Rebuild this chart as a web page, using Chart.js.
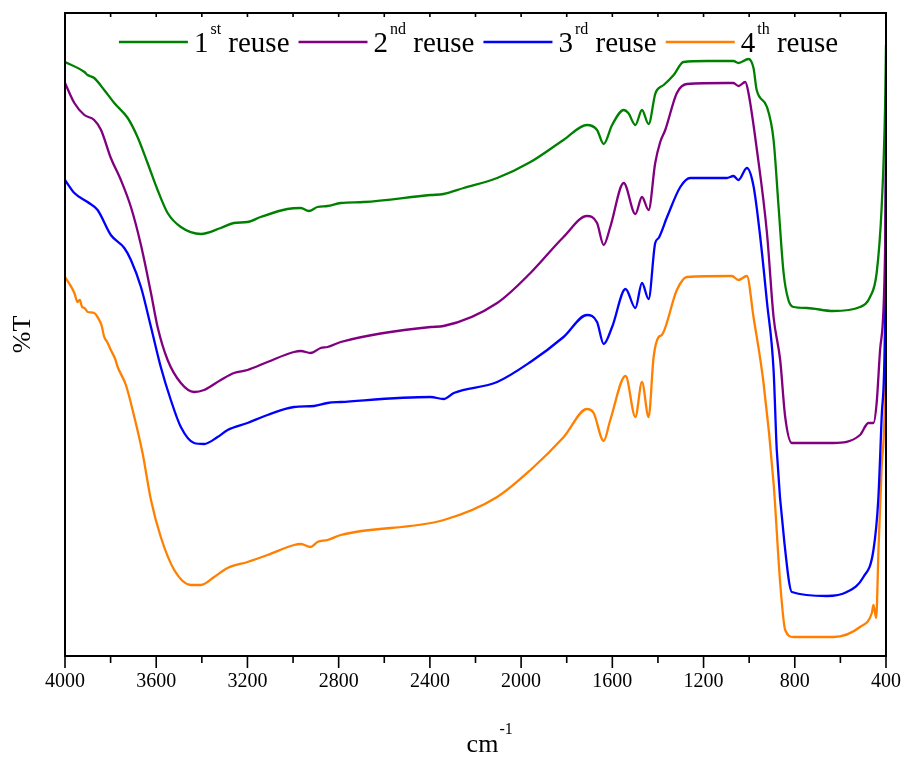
<!DOCTYPE html>
<html>
<head>
<meta charset="utf-8">
<script src="https://cdn.jsdelivr.net/npm/chart.js@4/dist/chart.umd.min.js"></script>
<style>
  html, body { margin: 0; padding: 0; background: #fff; }
  #wrap { width: 906px; height: 760px; }
</style>
</head>
<body>
<div id="wrap"><canvas id="c" width="906" height="760"></canvas></div>
<script>
// ---- data (wavenumber in cm-1, relative %T, arbitrary offset units) ----
const seriesOrdinal = ['1', '2', '3', '4'];
const seriesSuffix = ['st', 'nd', 'rd', 'th'];
const seriesWord = 'reuse';
const seriesColors = ['#008000', '#800080', '#0000ff', '#ff8000'];

const wn1 = [4000,3915,3901,3872,3828,3784,3725,3682,3638,3594,3550,3492,3404,3317,3260,3200,3142,3025,2966,2931,2893,2849,2791,2690,2397,2340,2252,2105,1959,1814,1711,1667,1638,1601,1550,1530,1499,1470,1441,1412,1404,1375,1331,1288,1185,1069,1047,1003,981,967,922,893,871,849,828,806,747,632,514,470,441,419,404,400];
const t1  = [594,584,581,578,566,553,538,519,493,466,443,429,422,428,433,434,439,447,448,445,449,450,453,454,461,462,468,478,494,516,531,526,512,531,546,543,531,546,532,562,566,571,581,594,595,595,593,597,588,566,549,516,449,383,356,349,348,345,349,359,383,449,549,611];

const wn2 = [4000,3959,3915,3872,3842,3799,3755,3711,3667,3623,3594,3550,3492,3434,3390,3317,3259,3200,3112,2996,2966,2923,2879,2849,2791,2397,2340,2105,1959,1814,1711,1667,1638,1609,1550,1499,1470,1441,1412,1390,1368,1317,1273,1098,1069,1047,1017,1003,966,922,893,864,842,813,631,514,477,455,441,426,404,400];
const t2  = [573,553,541,536,526,498,476,449,411,363,329,296,273,264,266,276,283,286,294,304,305,303,308,309,314,329,330,353,383,419,440,433,411,429,473,442,459,446,493,514,526,563,572,573,573,570,574,563,506,423,339,296,239,213,213,221,233,233,253,306,406,530];

const wn3 = [4000,3959,3901,3857,3799,3740,3711,3667,3623,3580,3536,3492,3434,3390,3331,3287,3200,3112,2996,2908,2849,2791,2397,2340,2295,2105,1959,1814,1711,1667,1638,1601,1542,1499,1470,1441,1412,1397,1360,1302,1258,1098,1069,1047,1010,981,952,922,893,879,842,813,660,572,499,455,434,419,404,400];
const t3  = [476,463,454,446,421,408,396,369,329,289,256,229,213,212,219,226,233,241,249,250,253,254,259,257,263,274,294,319,341,334,312,329,367,348,373,357,413,418,439,469,478,478,480,476,488,470,420,354,286,206,106,64,60,64,79,106,156,239,339,481];

const wn4 = [4000,3980,3959,3945,3935,3925,3915,3900,3872,3850,3840,3828,3815,3799,3780,3769,3733,3696,3660,3623,3580,3521,3448,3404,3346,3287,3200,3112,2996,2966,2923,2893,2849,2791,2339,2105,1959,1813,1711,1682,1638,1609,1542,1499,1470,1441,1419,1397,1383,1317,1273,1076,1047,1010,981,937,893,864,842,806,631,514,462,455,443,433,419,404,400];
const t4  = [379,372,363,354,356,349,348,344,343,336,331,319,314,306,297,289,271,239,203,156,119,86,71,71,79,88,94,101,111,112,109,114,116,121,136,159,186,219,247,243,215,236,280,239,274,239,299,319,321,366,379,380,376,380,339,273,173,73,26,19,19,29,43,51,38,106,189,273,386];

const xTickValues = [4000,3600,3200,2800,2400,2000,1600,1200,800,400];
const xMin = 400, xMax = 4000, majorStep = 400, minorStep = 200;
const yMin = 0, yMax = 643;
const xTitle = 'cm', xTitleSup = '-1';
const yTitle = '%T';

const allWn = [wn1, wn2, wn3, wn4];
const allT = [t1, t2, t3, t4];

const datasets = allWn.map((wn, i) => ({
  label: seriesOrdinal[i] + seriesSuffix[i] + ' ' + seriesWord,
  data: wn.map((w, j) => ({ x: w, y: allT[i][j] })),
  borderColor: seriesColors[i],
  backgroundColor: seriesColors[i],
  borderWidth: 2.3,
  pointRadius: 0,
  cubicInterpolationMode: 'monotone',
  fill: false
}));

const FONT = '"Liberation Serif", "Times New Roman", serif';
Chart.defaults.font.family = FONT;
Chart.defaults.color = '#000';

const decor = {
  id: 'decor',
  afterDraw(chart) {
    const { ctx, chartArea: a, scales: { x } } = chart;
    ctx.save();
    // frame
    ctx.strokeStyle = '#000';
    ctx.lineWidth = 2;
    ctx.strokeRect(a.left, a.top, a.right - a.left, a.bottom - a.top);
    // ticks
    ctx.lineWidth = 1.6;
    ctx.beginPath();
    for (let v = xMin; v <= xMax; v += minorStep) {
      const px = x.getPixelForValue(v);
      const major = v % majorStep === 0;
      ctx.moveTo(px, a.bottom);
      ctx.lineTo(px, a.bottom + (major ? 12 : 7));
      ctx.moveTo(px, a.top);
      ctx.lineTo(px, a.top + 4);
    }
    ctx.stroke();

    // y title
    ctx.fillStyle = '#000';
    ctx.save();
    ctx.translate(23, (a.top + a.bottom) / 2);
    ctx.rotate(-Math.PI / 2);
    ctx.font = '26px ' + FONT;
    ctx.textAlign = 'center';
    ctx.textBaseline = 'middle';
    ctx.fillText(yTitle, 0, 0);
    ctx.restore();

    // x title with superscript
    ctx.textAlign = 'left';
    ctx.textBaseline = 'alphabetic';
    ctx.font = '26px ' + FONT;
    const wcm = ctx.measureText(xTitle).width;
    const xc = (a.left + a.right) / 2;
    const cmLeft = xc - wcm / 2 + 7;
    ctx.fillText(xTitle, cmLeft, 752);
    ctx.font = '16px ' + FONT;
    ctx.fillText(xTitleSup, cmLeft + wcm + 1, 734);

    // legend
    const lineLen = 69, gapLine = 6, gapItem = 9;
    const bigFont = '29px ' + FONT, supFont = '16px ' + FONT;
    const items = chart.data.datasets.map((ds, i) => {
      ctx.font = bigFont;
      const wn = ctx.measureText(seriesOrdinal[i]).width;
      const ww = ctx.measureText(' ' + seriesWord).width;
      ctx.font = supFont;
      const ws = ctx.measureText(seriesSuffix[i]).width;
      return { color: ds.borderColor, wn, ws, ww, w: lineLen + gapLine + wn + 2 + ws + ww };
    });
    const total = items.reduce((s, it) => s + it.w, 0) + gapItem * (items.length - 1);
    let cx = xc + 3 - total / 2;
    const ly = 42, by = 52, sy = 34;
    items.forEach((it, i) => {
      ctx.strokeStyle = it.color;
      ctx.lineWidth = 2.6;
      ctx.beginPath();
      ctx.moveTo(cx, ly);
      ctx.lineTo(cx + lineLen, ly);
      ctx.stroke();
      let tx = cx + lineLen + gapLine;
      ctx.fillStyle = '#000';
      ctx.font = bigFont;
      ctx.fillText(seriesOrdinal[i], tx, by);
      tx += it.wn + 2;
      ctx.font = supFont;
      ctx.fillText(seriesSuffix[i], tx, sy);
      tx += it.ws;
      ctx.font = bigFont;
      ctx.fillText(' ' + seriesWord, tx, by);
      cx += it.w + gapItem;
    });
    ctx.restore();
  }
};

new Chart(document.getElementById('c'), {
  type: 'line',
  data: { datasets },
  options: {
    responsive: false,
    animation: false,
    events: [],
    layout: { padding: { left: 65, right: 20, top: 13, bottom: 0 } },
    plugins: { legend: { display: false }, tooltip: { enabled: false } },
    scales: {
      x: {
        type: 'linear',
        reverse: true,
        min: xMin,
        max: xMax,
        afterFit: (s) => { s.height = 104; s.paddingLeft = 0; s.paddingRight = 0; },
        afterBuildTicks: (s) => { s.ticks = xTickValues.map(v => ({ value: v })); },
        grid: { display: false, drawTicks: false },
        border: { display: false },
        ticks: {
          autoSkip: false,
          maxRotation: 0,
          padding: 14,
          font: { size: 20, family: FONT },
          color: '#000',
          callback: (v) => String(v)
        }
      },
      y: {
        display: false,
        min: yMin,
        max: yMax
      }
    }
  },
  plugins: [decor]
});
</script>
</body>
</html>
